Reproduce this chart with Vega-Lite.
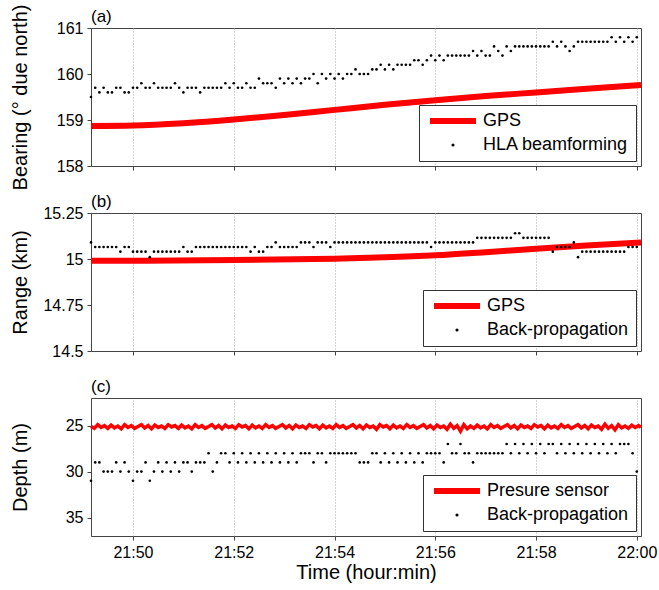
{
  "$schema": "https://vega.github.io/schema/vega-lite/v6.json",
  "padding": {"left": 9, "top": 3, "right": 4, "bottom": 0},
  "background": "white",
  "config": {
    "font": "Liberation Sans",
    "view": {"stroke": "#444", "strokeWidth": 1},
    "axis": {"labelFont": "Liberation Sans", "titleFont": "Liberation Sans", "labelFontSize": 16, "titleFontSize": 20, "titleFontWeight": "normal", "labelColor": "#000", "titleColor": "#000", "domain": false, "tickColor": "#444", "tickSize": 4, "labelPadding": 4, "grid": false},
    "axisY": {"titleX": -61, "titleY": 69, "titleAngle": -90, "titleBaseline": "bottom", "titleAlign": "center"},
    "title": {"font": "Liberation Sans", "fontSize": 17, "fontWeight": "normal", "anchor": "start", "frame": "group", "offset": 0, "color": "#000"},
    "legend": {"labelFont": "Liberation Sans", "labelFontSize": 18, "labelColor": "#000", "orient": "bottom-right", "offset": 5, "fillColor": "white", "strokeColor": "#333", "padding": 7, "rowPadding": 3, "labelOffset": 39, "labelLimit": 400, "symbolType": "stroke", "symbolSize": 1600, "symbolStrokeWidth": 6}
  },
  "datasets": {
    "bearDots": [
{"t":"21:49:10","v":159.5},{"t":"21:49:15","v":159.7},{"t":"21:49:20","v":159.6},{"t":"21:49:25","v":159.7},{"t":"21:49:30","v":159.6},{"t":"21:49:35","v":159.6},{"t":"21:49:40","v":159.7},{"t":"21:49:45","v":159.7},{"t":"21:49:50","v":159.6},{"t":"21:49:55","v":159.6},
{"t":"21:50:00","v":159.7},{"t":"21:50:05","v":159.7},{"t":"21:50:10","v":159.8},{"t":"21:50:15","v":159.7},{"t":"21:50:20","v":159.7},{"t":"21:50:25","v":159.8},{"t":"21:50:30","v":159.7},{"t":"21:50:35","v":159.7},{"t":"21:50:40","v":159.7},{"t":"21:50:45","v":159.7},{"t":"21:50:50","v":159.8},{"t":"21:50:55","v":159.7},
{"t":"21:51:00","v":159.6},{"t":"21:51:05","v":159.7},{"t":"21:51:10","v":159.7},{"t":"21:51:15","v":159.7},{"t":"21:51:20","v":159.6},{"t":"21:51:25","v":159.7},{"t":"21:51:30","v":159.7},{"t":"21:51:35","v":159.7},{"t":"21:51:40","v":159.7},{"t":"21:51:45","v":159.7},{"t":"21:51:50","v":159.8},{"t":"21:51:55","v":159.7},
{"t":"21:52:00","v":159.8},{"t":"21:52:05","v":159.7},{"t":"21:52:10","v":159.7},{"t":"21:52:15","v":159.8},{"t":"21:52:20","v":159.7},{"t":"21:52:25","v":159.7},{"t":"21:52:30","v":159.9},{"t":"21:52:35","v":159.8},{"t":"21:52:40","v":159.8},{"t":"21:52:45","v":159.8},{"t":"21:52:50","v":159.7},{"t":"21:52:55","v":159.9},
{"t":"21:53:00","v":159.8},{"t":"21:53:05","v":159.9},{"t":"21:53:10","v":159.8},{"t":"21:53:15","v":159.9},{"t":"21:53:20","v":159.8},{"t":"21:53:25","v":159.9},{"t":"21:53:30","v":159.9},{"t":"21:53:35","v":160.0},{"t":"21:53:40","v":159.8},{"t":"21:53:45","v":160.0},{"t":"21:53:50","v":159.9},{"t":"21:53:55","v":160.0},
{"t":"21:54:00","v":159.9},{"t":"21:54:05","v":160.0},{"t":"21:54:10","v":159.9},{"t":"21:54:15","v":160.0},{"t":"21:54:20","v":160.0},{"t":"21:54:25","v":160.1},{"t":"21:54:30","v":160.0},{"t":"21:54:35","v":160.0},{"t":"21:54:40","v":160.0},{"t":"21:54:45","v":160.1},{"t":"21:54:50","v":160.1},{"t":"21:54:55","v":160.2},
{"t":"21:55:00","v":160.1},{"t":"21:55:05","v":160.2},{"t":"21:55:10","v":160.1},{"t":"21:55:15","v":160.2},{"t":"21:55:20","v":160.2},{"t":"21:55:25","v":160.2},{"t":"21:55:30","v":160.2},{"t":"21:55:35","v":160.3},{"t":"21:55:40","v":160.3},{"t":"21:55:45","v":160.2},{"t":"21:55:50","v":160.3},{"t":"21:55:55","v":160.4},
{"t":"21:56:00","v":160.3},{"t":"21:56:05","v":160.4},{"t":"21:56:10","v":160.3},{"t":"21:56:15","v":160.4},{"t":"21:56:20","v":160.4},{"t":"21:56:25","v":160.4},{"t":"21:56:30","v":160.4},{"t":"21:56:35","v":160.4},{"t":"21:56:40","v":160.4},{"t":"21:56:45","v":160.5},{"t":"21:56:50","v":160.4},{"t":"21:56:55","v":160.5},
{"t":"21:57:00","v":160.4},{"t":"21:57:05","v":160.4},{"t":"21:57:10","v":160.6},{"t":"21:57:15","v":160.5},{"t":"21:57:20","v":160.4},{"t":"21:57:25","v":160.6},{"t":"21:57:30","v":160.5},{"t":"21:57:35","v":160.6},{"t":"21:57:40","v":160.6},{"t":"21:57:45","v":160.6},{"t":"21:57:50","v":160.6},{"t":"21:57:55","v":160.6},
{"t":"21:58:00","v":160.6},{"t":"21:58:05","v":160.6},{"t":"21:58:10","v":160.6},{"t":"21:58:15","v":160.6},{"t":"21:58:20","v":160.7},{"t":"21:58:25","v":160.6},{"t":"21:58:30","v":160.7},{"t":"21:58:35","v":160.6},{"t":"21:58:40","v":160.5},{"t":"21:58:45","v":160.6},{"t":"21:58:50","v":160.7},{"t":"21:58:55","v":160.7},
{"t":"21:59:00","v":160.7},{"t":"21:59:05","v":160.7},{"t":"21:59:10","v":160.7},{"t":"21:59:15","v":160.7},{"t":"21:59:20","v":160.7},{"t":"21:59:25","v":160.7},{"t":"21:59:30","v":160.8},{"t":"21:59:35","v":160.7},{"t":"21:59:40","v":160.8},{"t":"21:59:45","v":160.7},{"t":"21:59:50","v":160.8},{"t":"21:59:55","v":160.7},
{"t":"22:00:00","v":160.8}
    ],
    "rangeDots": [
{"t":"21:49:10","v":15.09},{"t":"21:49:15","v":15.065},{"t":"21:49:20","v":15.065},{"t":"21:49:25","v":15.065},{"t":"21:49:30","v":15.065},{"t":"21:49:35","v":15.065},{"t":"21:49:40","v":15.065},{"t":"21:49:45","v":15.04},{"t":"21:49:50","v":15.065},{"t":"21:49:55","v":15.065},
{"t":"21:50:00","v":15.04},{"t":"21:50:05","v":15.04},{"t":"21:50:10","v":15.04},{"t":"21:50:15","v":15.04},{"t":"21:50:20","v":15.01},{"t":"21:50:25","v":15.04},{"t":"21:50:30","v":15.04},{"t":"21:50:35","v":15.04},{"t":"21:50:40","v":15.04},{"t":"21:50:45","v":15.04},{"t":"21:50:50","v":15.04},{"t":"21:50:55","v":15.04},
{"t":"21:51:00","v":15.065},{"t":"21:51:05","v":15.04},{"t":"21:51:10","v":15.04},{"t":"21:51:15","v":15.065},{"t":"21:51:20","v":15.065},{"t":"21:51:25","v":15.065},{"t":"21:51:30","v":15.065},{"t":"21:51:35","v":15.065},{"t":"21:51:40","v":15.065},{"t":"21:51:45","v":15.065},{"t":"21:51:50","v":15.065},{"t":"21:51:55","v":15.065},
{"t":"21:52:00","v":15.065},{"t":"21:52:05","v":15.065},{"t":"21:52:10","v":15.065},{"t":"21:52:15","v":15.065},{"t":"21:52:20","v":15.04},{"t":"21:52:25","v":15.065},{"t":"21:52:30","v":15.04},{"t":"21:52:35","v":15.04},{"t":"21:52:40","v":15.065},{"t":"21:52:45","v":15.065},{"t":"21:52:50","v":15.09},{"t":"21:52:55","v":15.065},
{"t":"21:53:00","v":15.065},{"t":"21:53:05","v":15.065},{"t":"21:53:10","v":15.065},{"t":"21:53:15","v":15.065},{"t":"21:53:20","v":15.09},{"t":"21:53:25","v":15.09},{"t":"21:53:30","v":15.09},{"t":"21:53:35","v":15.065},{"t":"21:53:40","v":15.09},{"t":"21:53:45","v":15.09},{"t":"21:53:50","v":15.09},{"t":"21:53:55","v":15.065},
{"t":"21:54:00","v":15.09},{"t":"21:54:05","v":15.09},{"t":"21:54:10","v":15.09},{"t":"21:54:15","v":15.09},{"t":"21:54:20","v":15.09},{"t":"21:54:25","v":15.09},{"t":"21:54:30","v":15.09},{"t":"21:54:35","v":15.09},{"t":"21:54:40","v":15.09},{"t":"21:54:45","v":15.09},{"t":"21:54:50","v":15.09},{"t":"21:54:55","v":15.09},
{"t":"21:55:00","v":15.09},{"t":"21:55:05","v":15.09},{"t":"21:55:10","v":15.09},{"t":"21:55:15","v":15.09},{"t":"21:55:20","v":15.09},{"t":"21:55:25","v":15.09},{"t":"21:55:30","v":15.09},{"t":"21:55:35","v":15.09},{"t":"21:55:40","v":15.09},{"t":"21:55:45","v":15.09},{"t":"21:55:50","v":15.09},{"t":"21:55:55","v":15.065},
{"t":"21:56:00","v":15.09},{"t":"21:56:05","v":15.09},{"t":"21:56:10","v":15.09},{"t":"21:56:15","v":15.09},{"t":"21:56:20","v":15.09},{"t":"21:56:25","v":15.09},{"t":"21:56:30","v":15.09},{"t":"21:56:35","v":15.09},{"t":"21:56:40","v":15.09},{"t":"21:56:45","v":15.09},{"t":"21:56:50","v":15.115},{"t":"21:56:55","v":15.115},
{"t":"21:57:00","v":15.115},{"t":"21:57:05","v":15.115},{"t":"21:57:10","v":15.115},{"t":"21:57:15","v":15.115},{"t":"21:57:20","v":15.115},{"t":"21:57:25","v":15.115},{"t":"21:57:30","v":15.115},{"t":"21:57:35","v":15.14},{"t":"21:57:40","v":15.14},{"t":"21:57:45","v":15.115},{"t":"21:57:50","v":15.115},{"t":"21:57:55","v":15.115},
{"t":"21:58:00","v":15.115},{"t":"21:58:05","v":15.115},{"t":"21:58:10","v":15.115},{"t":"21:58:15","v":15.115},{"t":"21:58:20","v":15.04},{"t":"21:58:25","v":15.065},{"t":"21:58:30","v":15.065},{"t":"21:58:35","v":15.065},{"t":"21:58:40","v":15.065},{"t":"21:58:45","v":15.09},{"t":"21:58:50","v":15.01},{"t":"21:58:55","v":15.04},
{"t":"21:59:00","v":15.04},{"t":"21:59:05","v":15.04},{"t":"21:59:10","v":15.04},{"t":"21:59:15","v":15.04},{"t":"21:59:20","v":15.04},{"t":"21:59:25","v":15.04},{"t":"21:59:30","v":15.04},{"t":"21:59:35","v":15.04},{"t":"21:59:40","v":15.04},{"t":"21:59:45","v":15.04},{"t":"21:59:50","v":15.065},{"t":"21:59:55","v":15.065},
{"t":"22:00:00","v":15.065}
    ],
    "depthDots": [
{"t":"21:49:10","v":31},{"t":"21:49:15","v":29},{"t":"21:49:20","v":29},{"t":"21:49:25","v":30},{"t":"21:49:30","v":30},{"t":"21:49:35","v":30},{"t":"21:49:40","v":29},{"t":"21:49:45","v":30},{"t":"21:49:50","v":29},{"t":"21:49:55","v":30},
{"t":"21:50:00","v":31},{"t":"21:50:05","v":30},{"t":"21:50:10","v":30},{"t":"21:50:15","v":29},{"t":"21:50:20","v":31},{"t":"21:50:25","v":30},{"t":"21:50:30","v":29},{"t":"21:50:35","v":30},{"t":"21:50:40","v":29},{"t":"21:50:45","v":30},{"t":"21:50:50","v":29},{"t":"21:50:55","v":30},
{"t":"21:51:00","v":29},{"t":"21:51:05","v":29},{"t":"21:51:10","v":30},{"t":"21:51:15","v":29},{"t":"21:51:20","v":29},{"t":"21:51:25","v":29},{"t":"21:51:30","v":28},{"t":"21:51:35","v":30},{"t":"21:51:40","v":29},{"t":"21:51:45","v":28},{"t":"21:51:50","v":28},{"t":"21:51:55","v":29},
{"t":"21:52:00","v":28},{"t":"21:52:05","v":29},{"t":"21:52:10","v":28},{"t":"21:52:15","v":29},{"t":"21:52:20","v":28},{"t":"21:52:25","v":29},{"t":"21:52:30","v":28},{"t":"21:52:35","v":29},{"t":"21:52:40","v":28},{"t":"21:52:45","v":29},{"t":"21:52:50","v":28},{"t":"21:52:55","v":29},
{"t":"21:53:00","v":28},{"t":"21:53:05","v":29},{"t":"21:53:10","v":28},{"t":"21:53:15","v":29},{"t":"21:53:20","v":28},{"t":"21:53:25","v":28},{"t":"21:53:30","v":28},{"t":"21:53:35","v":29},{"t":"21:53:40","v":28},{"t":"21:53:45","v":28},{"t":"21:53:50","v":29},{"t":"21:53:55","v":28},
{"t":"21:54:00","v":28},{"t":"21:54:05","v":28},{"t":"21:54:10","v":28},{"t":"21:54:15","v":28},{"t":"21:54:20","v":28},{"t":"21:54:25","v":28},{"t":"21:54:30","v":29},{"t":"21:54:35","v":29},{"t":"21:54:40","v":29},{"t":"21:54:45","v":28},{"t":"21:54:50","v":28},{"t":"21:54:55","v":29},
{"t":"21:55:00","v":28},{"t":"21:55:05","v":29},{"t":"21:55:10","v":28},{"t":"21:55:15","v":29},{"t":"21:55:20","v":28},{"t":"21:55:25","v":29},{"t":"21:55:30","v":28},{"t":"21:55:35","v":29},{"t":"21:55:40","v":28},{"t":"21:55:45","v":29},{"t":"21:55:50","v":28},{"t":"21:55:55","v":28},
{"t":"21:56:00","v":28},{"t":"21:56:05","v":28},{"t":"21:56:10","v":29},{"t":"21:56:15","v":27},{"t":"21:56:20","v":28},{"t":"21:56:25","v":28},{"t":"21:56:30","v":27},{"t":"21:56:35","v":28},{"t":"21:56:40","v":28},{"t":"21:56:45","v":29},{"t":"21:56:50","v":28},{"t":"21:56:55","v":28},
{"t":"21:57:00","v":28},{"t":"21:57:05","v":28},{"t":"21:57:10","v":28},{"t":"21:57:15","v":28},{"t":"21:57:20","v":28},{"t":"21:57:25","v":27},{"t":"21:57:30","v":28},{"t":"21:57:35","v":27},{"t":"21:57:40","v":28},{"t":"21:57:45","v":27},{"t":"21:57:50","v":28},{"t":"21:57:55","v":27},
{"t":"21:58:00","v":28},{"t":"21:58:05","v":27},{"t":"21:58:10","v":28},{"t":"21:58:15","v":27},{"t":"21:58:20","v":27},{"t":"21:58:25","v":28},{"t":"21:58:30","v":27},{"t":"21:58:35","v":28},{"t":"21:58:40","v":27},{"t":"21:58:45","v":28},{"t":"21:58:50","v":27},{"t":"21:58:55","v":28},
{"t":"21:59:00","v":27},{"t":"21:59:05","v":28},{"t":"21:59:10","v":27},{"t":"21:59:15","v":28},{"t":"21:59:20","v":27},{"t":"21:59:25","v":28},{"t":"21:59:30","v":27},{"t":"21:59:35","v":28},{"t":"21:59:40","v":27},{"t":"21:59:45","v":27},{"t":"21:59:50","v":27},{"t":"21:59:55","v":28},
{"t":"22:00:00","v":30}
    ],
    "press": [
{"t":"21:49:10","p":25.1},{"t":"21:49:14","p":25.3},{"t":"21:49:18","p":24.9},{"t":"21:49:22","p":25.2},{"t":"21:49:26","p":25.0},{"t":"21:49:30","p":25.3},{"t":"21:49:34","p":24.95},{"t":"21:49:38","p":25.25},{"t":"21:49:42","p":25.05},{"t":"21:49:46","p":25.35},{"t":"21:49:50","p":24.9},{"t":"21:49:54","p":25.2},{"t":"21:49:58","p":25.0},
{"t":"21:50:02","p":25.3},{"t":"21:50:06","p":25.1},{"t":"21:50:10","p":24.9},{"t":"21:50:14","p":25.25},{"t":"21:50:18","p":25.0},{"t":"21:50:22","p":25.35},{"t":"21:50:26","p":24.95},{"t":"21:50:30","p":25.2},{"t":"21:50:34","p":25.05},{"t":"21:50:38","p":25.3},{"t":"21:50:42","p":24.9},{"t":"21:50:46","p":25.15},{"t":"21:50:50","p":25.0},{"t":"21:50:54","p":25.3},{"t":"21:50:58","p":24.95},
{"t":"21:51:02","p":25.25},{"t":"21:51:06","p":25.05},{"t":"21:51:10","p":25.35},{"t":"21:51:14","p":24.9},{"t":"21:51:18","p":25.2},{"t":"21:51:22","p":25.0},{"t":"21:51:26","p":25.3},{"t":"21:51:30","p":25.1},{"t":"21:51:34","p":24.9},{"t":"21:51:38","p":25.25},{"t":"21:51:42","p":25.0},{"t":"21:51:46","p":25.35},{"t":"21:51:50","p":24.95},{"t":"21:51:54","p":25.2},{"t":"21:51:58","p":25.05},
{"t":"21:52:02","p":25.3},{"t":"21:52:06","p":24.9},{"t":"21:52:10","p":25.15},{"t":"21:52:14","p":25.0},{"t":"21:52:18","p":25.35},{"t":"21:52:22","p":24.95},{"t":"21:52:26","p":25.25},{"t":"21:52:30","p":25.05},{"t":"21:52:34","p":25.3},{"t":"21:52:38","p":24.9},{"t":"21:52:42","p":25.2},{"t":"21:52:46","p":25.0},{"t":"21:52:50","p":25.3},{"t":"21:52:54","p":25.1},{"t":"21:52:58","p":24.9},
{"t":"21:53:02","p":25.25},{"t":"21:53:06","p":25.0},{"t":"21:53:10","p":25.35},{"t":"21:53:14","p":24.95},{"t":"21:53:18","p":25.2},{"t":"21:53:22","p":25.05},{"t":"21:53:26","p":25.3},{"t":"21:53:30","p":24.9},{"t":"21:53:34","p":25.15},{"t":"21:53:38","p":25.0},{"t":"21:53:42","p":25.35},{"t":"21:53:46","p":24.95},{"t":"21:53:50","p":25.25},{"t":"21:53:54","p":25.05},{"t":"21:53:58","p":25.3},
{"t":"21:54:02","p":24.9},{"t":"21:54:06","p":25.2},{"t":"21:54:10","p":25.0},{"t":"21:54:14","p":25.3},{"t":"21:54:18","p":25.1},{"t":"21:54:22","p":24.9},{"t":"21:54:26","p":25.25},{"t":"21:54:30","p":25.0},{"t":"21:54:34","p":25.35},{"t":"21:54:38","p":24.95},{"t":"21:54:42","p":25.2},{"t":"21:54:46","p":25.05},{"t":"21:54:50","p":25.4},{"t":"21:54:54","p":24.9},{"t":"21:54:58","p":25.15},
{"t":"21:55:02","p":25.0},{"t":"21:55:06","p":25.35},{"t":"21:55:10","p":24.95},{"t":"21:55:14","p":25.25},{"t":"21:55:18","p":25.05},{"t":"21:55:22","p":25.3},{"t":"21:55:26","p":24.9},{"t":"21:55:30","p":25.2},{"t":"21:55:34","p":25.0},{"t":"21:55:38","p":25.3},{"t":"21:55:42","p":25.1},{"t":"21:55:46","p":24.9},{"t":"21:55:50","p":25.25},{"t":"21:55:54","p":25.0},{"t":"21:55:58","p":25.35},
{"t":"21:56:02","p":24.95},{"t":"21:56:06","p":25.2},{"t":"21:56:10","p":25.05},{"t":"21:56:14","p":25.4},{"t":"21:56:18","p":24.85},{"t":"21:56:22","p":25.3},{"t":"21:56:26","p":25.0},{"t":"21:56:30","p":25.6},{"t":"21:56:34","p":24.9},{"t":"21:56:38","p":25.35},{"t":"21:56:42","p":25.05},{"t":"21:56:46","p":25.3},{"t":"21:56:50","p":24.95},{"t":"21:56:54","p":25.25},{"t":"21:56:58","p":25.05},
{"t":"21:57:02","p":25.35},{"t":"21:57:06","p":24.9},{"t":"21:57:10","p":25.2},{"t":"21:57:14","p":25.0},{"t":"21:57:18","p":25.3},{"t":"21:57:22","p":25.1},{"t":"21:57:26","p":24.9},{"t":"21:57:30","p":25.25},{"t":"21:57:34","p":25.0},{"t":"21:57:38","p":25.35},{"t":"21:57:42","p":24.95},{"t":"21:57:46","p":25.2},{"t":"21:57:50","p":25.05},{"t":"21:57:54","p":25.3},{"t":"21:57:58","p":24.9},
{"t":"21:58:02","p":25.15},{"t":"21:58:06","p":25.0},{"t":"21:58:10","p":25.35},{"t":"21:58:14","p":24.95},{"t":"21:58:18","p":25.25},{"t":"21:58:22","p":25.05},{"t":"21:58:26","p":25.3},{"t":"21:58:30","p":24.9},{"t":"21:58:34","p":25.2},{"t":"21:58:38","p":25.0},{"t":"21:58:42","p":25.3},{"t":"21:58:46","p":25.1},{"t":"21:58:50","p":24.9},{"t":"21:58:54","p":25.25},{"t":"21:58:58","p":25.0},
{"t":"21:59:02","p":25.35},{"t":"21:59:06","p":24.95},{"t":"21:59:10","p":25.2},{"t":"21:59:14","p":25.05},{"t":"21:59:18","p":25.4},{"t":"21:59:22","p":24.85},{"t":"21:59:26","p":25.3},{"t":"21:59:30","p":25.0},{"t":"21:59:34","p":25.45},{"t":"21:59:38","p":24.9},{"t":"21:59:42","p":25.25},{"t":"21:59:46","p":25.05},{"t":"21:59:50","p":25.3},{"t":"21:59:54","p":24.95},{"t":"21:59:58","p":25.2},{"t":"22:00:02","p":25.0},{"t":"22:00:05","p":25.2}
    ],
    "gpsBearing": [
{"t":"21:49:10","v":158.87},{"t":"21:50:00","v":158.88},{"t":"21:51:00","v":158.93},{"t":"21:52:00","v":159.01},{"t":"21:53:00","v":159.11},{"t":"21:54:00","v":159.22},{"t":"21:55:00","v":159.33},{"t":"21:56:00","v":159.43},{"t":"21:57:00","v":159.52},{"t":"21:58:00","v":159.6},{"t":"21:59:00","v":159.68},{"t":"22:00:05","v":159.76}
    ],
    "gpsRange": [
{"t":"21:49:10","v":14.99},{"t":"21:50:00","v":14.99},{"t":"21:52:00","v":14.994},{"t":"21:54:00","v":15.002},{"t":"21:55:00","v":15.009},{"t":"21:56:00","v":15.02},{"t":"21:57:00","v":15.037},{"t":"21:58:00","v":15.056},{"t":"21:59:00","v":15.073},{"t":"22:00:05","v":15.09}
    ]
  },
  "bounds": "flush",
  "spacing": 47,
  "resolve": {"scale": {"color": "independent"}, "legend": {"color": "independent"}},
  "vconcat": [
    {
      "width": 550, "height": 138,
      "title": {"text": "(a)", "offset": -22},
      "layer": [
        {
          "data": {"name": "gpsBearing", "format": {"parse": {"t": "date:'%H:%M:%S'"}}},
          "mark": {"type": "line", "strokeWidth": 6, "interpolate": "monotone"},
          "encoding": {
            "x": {"field": "t", "type": "temporal", "scale": {"nice": false},
              "axis": {"labels": false, "title": null, "tickCount": 11, "grid": true, "gridDash": [1, 2], "gridColor": "#aaa",
                "gridOpacity": {"condition": {"test": "minutes(datum.value) % 2 !== 0", "value": 0}, "value": 1},
                "tickOpacity": {"condition": {"test": "minutes(datum.value) % 2 !== 0", "value": 0}, "value": 1}}},
            "y": {"field": "v", "type": "quantitative", "scale": {"domain": [158, 161], "zero": false, "nice": false},
              "axis": {"values": [158, 159, 160, 161], "title": "Bearing (° due north)"}},
            "color": {"datum": "GPS", "scale": {"domain": ["GPS", "HLA beamforming"], "range": ["#ff0000", "#000000"]},
              "legend": {"title": null, "encode": {"symbols": {"update": {
                "x": {"value": 27},
                "shape": {"signal": "datum.value === 'GPS' ? 'stroke' : 'circle'"},
                "size": {"signal": "datum.value === 'GPS' ? 2116 : 10"},
                "fill": {"signal": "datum.value === 'GPS' ? 'transparent' : '#000'"},
                "stroke": {"signal": "datum.value === 'GPS' ? '#ff0000' : '#000'"},
                "strokeWidth": {"signal": "datum.value === 'GPS' ? 6 : 0"},
                "opacity": {"value": 1}}}}}}
          }
        },
        {
          "data": {"name": "bearDots", "format": {"parse": {"t": "date:'%H:%M:%S'"}}},
          "mark": {"type": "point", "filled": true, "size": 7, "opacity": 1},
          "encoding": {
            "x": {"field": "t", "type": "temporal"},
            "y": {"field": "v", "type": "quantitative"},
            "color": {"datum": "HLA beamforming"}
          }
        }
      ]
    },
    {
      "width": 550, "height": 138,
      "title": {"text": "(b)", "offset": -6},
      "layer": [
        {
          "data": {"name": "gpsRange", "format": {"parse": {"t": "date:'%H:%M:%S'"}}},
          "mark": {"type": "line", "strokeWidth": 6, "interpolate": "monotone"},
          "encoding": {
            "x": {"field": "t", "type": "temporal", "scale": {"nice": false},
              "axis": {"labels": false, "title": null, "tickCount": 11, "grid": true, "gridDash": [1, 2], "gridColor": "#aaa",
                "gridOpacity": {"condition": {"test": "minutes(datum.value) % 2 !== 0", "value": 0}, "value": 1},
                "tickOpacity": {"condition": {"test": "minutes(datum.value) % 2 !== 0", "value": 0}, "value": 1}}},
            "y": {"field": "v", "type": "quantitative", "scale": {"domain": [14.5, 15.25], "zero": false, "nice": false},
              "axis": {"values": [14.5, 14.75, 15, 15.25], "labelExpr": "datum.value + ''", "title": "Range (km)"}},
            "color": {"datum": "GPS", "scale": {"domain": ["GPS", "Back-propagation"], "range": ["#ff0000", "#000000"]},
              "legend": {"title": null, "encode": {"symbols": {"update": {
                "x": {"value": 27},
                "shape": {"signal": "datum.value === 'GPS' ? 'stroke' : 'circle'"},
                "size": {"signal": "datum.value === 'GPS' ? 2116 : 10"},
                "fill": {"signal": "datum.value === 'GPS' ? 'transparent' : '#000'"},
                "stroke": {"signal": "datum.value === 'GPS' ? '#ff0000' : '#000'"},
                "strokeWidth": {"signal": "datum.value === 'GPS' ? 6 : 0"},
                "opacity": {"value": 1}}}}}}
          }
        },
        {
          "data": {"name": "rangeDots", "format": {"parse": {"t": "date:'%H:%M:%S'"}}},
          "mark": {"type": "point", "filled": true, "size": 7, "opacity": 1},
          "encoding": {
            "x": {"field": "t", "type": "temporal"},
            "y": {"field": "v", "type": "quantitative"},
            "color": {"datum": "Back-propagation"}
          }
        }
      ]
    },
    {
      "width": 550, "height": 138,
      "title": {"text": "(c)", "offset": 2},
      "layer": [
        {
          "data": {"name": "press", "format": {"parse": {"t": "date:'%H:%M:%S'"}}},
          "mark": {"type": "line", "strokeWidth": 3.5},
          "encoding": {
            "x": {"field": "t", "type": "temporal", "scale": {"nice": false},
              "axis": {"labelExpr": "minutes(datum.value) % 2 === 0 ? timeFormat(datum.value, '%H:%M') : ''", "title": "Time (hour:min)", "titleFontSize": 20, "titlePadding": 2, "labelPadding": 4, "tickCount": 11, "grid": true, "gridDash": [1, 2], "gridColor": "#aaa",
                "gridOpacity": {"condition": {"test": "minutes(datum.value) % 2 !== 0", "value": 0}, "value": 1},
                "tickOpacity": {"condition": {"test": "minutes(datum.value) % 2 !== 0", "value": 0}, "value": 1}}},
            "y": {"field": "p", "type": "quantitative", "scale": {"domain": [22, 37], "reverse": true, "zero": false, "nice": false},
              "axis": {"values": [25, 30, 35], "title": "Depth (m)"}},
            "color": {"datum": "Presure sensor", "scale": {"domain": ["Presure sensor", "Back-propagation"], "range": ["#ff0000", "#000000"]},
              "legend": {"title": null, "encode": {"symbols": {"update": {
                "x": {"value": 27},
                "shape": {"signal": "datum.value === 'Presure sensor' ? 'stroke' : 'circle'"},
                "size": {"signal": "datum.value === 'Presure sensor' ? 2116 : 10"},
                "fill": {"signal": "datum.value === 'Presure sensor' ? 'transparent' : '#000'"},
                "stroke": {"signal": "datum.value === 'Presure sensor' ? '#ff0000' : '#000'"},
                "strokeWidth": {"signal": "datum.value === 'Presure sensor' ? 6 : 0"},
                "opacity": {"value": 1}}}}}}
          }
        },
        {
          "data": {"name": "depthDots", "format": {"parse": {"t": "date:'%H:%M:%S'"}}},
          "mark": {"type": "point", "filled": true, "size": 7, "opacity": 1},
          "encoding": {
            "x": {"field": "t", "type": "temporal"},
            "y": {"field": "v", "type": "quantitative"},
            "color": {"datum": "Back-propagation"}
          }
        }
      ]
    }
  ]
}
